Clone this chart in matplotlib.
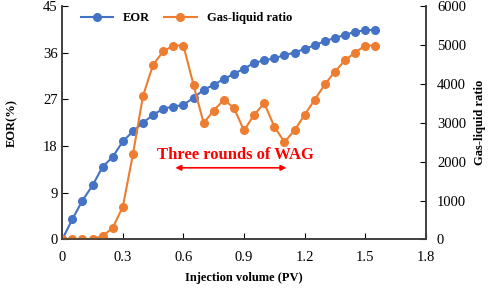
import matplotlib.pyplot as plt

plt.rcParams["font.family"] = ["Liberation Serif", "DejaVu Serif"]

# 注入量 (PV), 0.05 간격
pv = [0.0, 0.05, 0.1, 0.15, 0.2, 0.25, 0.3, 0.35, 0.4, 0.45, 0.5, 0.55, 0.6, 0.65,
      0.7, 0.75, 0.8, 0.85, 0.9, 0.95, 1.0, 1.05, 1.1, 1.15, 1.2, 1.25, 1.3, 1.35,
      1.4, 1.45, 1.5, 1.55]
eor = [0, 3.9, 7.5, 10.4, 14.0, 15.9, 18.9, 20.8, 22.5, 24.0, 25.2, 25.6, 25.9, 27.3,
       28.8, 29.8, 30.9, 31.9, 32.9, 34.0, 34.5, 34.9, 35.5, 36.0, 36.7, 37.4, 38.2,
       38.8, 39.4, 40.0, 40.3, 40.4]
glr = [0, 0, 0, 10, 85, 300, 840, 2190, 3690, 4490, 4830, 4980, 4980, 3970, 2990,
       3310, 3590, 3380, 2800, 3200, 3500, 2900, 2500, 2800, 3200, 3590, 3980, 4310,
       4600, 4800, 4980, 4980]

blue = "#4472C4"
orange = "#ED7D31"

fig, ax = plt.subplots(figsize=(4.98, 2.92), dpi=100)
fig.subplots_adjust(left=0.125, right=0.855, top=0.98, bottom=0.18)
ax2 = ax.twinx()

l1, = ax.plot(pv, eor, "-o", color=blue, lw=1.5, ms=5.5, label="EOR")
l2, = ax2.plot(pv, glr, "-o", color=orange, lw=1.5, ms=5.5, label="Gas-liquid ratio")

ax.set_xlim(0, 1.8)
ax.set_ylim(0, 45)
ax2.set_ylim(0, 6000)
ax.set_xticks([0, 0.3, 0.6, 0.9, 1.2, 1.5, 1.8])
ax.set_xticklabels(["0", "0.3", "0.6", "0.9", "1.2", "1.5", "1.8"])
ax.set_yticks([0, 9, 18, 27, 36, 45])
ax2.set_yticks([0, 1000, 2000, 3000, 4000, 5000, 6000])

for a in (ax, ax2):
    a.spines["top"].set_visible(False)
    a.tick_params(direction="in", labelsize=10.5, length=4)
    for s in a.spines.values():
        s.set_color("#404040")
        s.set_linewidth(1.2)
ax.tick_params(axis="x", pad=8)
ax2.tick_params(axis="y", pad=8)

ax.set_xlabel("Injection volume (PV)", fontsize=9, fontweight="bold", labelpad=6)
ax.set_ylabel("EOR(%)", fontsize=9, fontweight="bold", labelpad=18)
ax2.set_ylabel("Gas-liquid ratio", fontsize=9, fontweight="bold", labelpad=6)

ax.annotate("", xy=(0.56, 13.8), xytext=(1.11, 13.8),
            arrowprops=dict(arrowstyle="<|-|>", color="red", lw=1.2,
                            mutation_scale=8, shrinkA=0, shrinkB=0))
ax.text(0.856, 16.3, "Three rounds of WAG", color="red", fontsize=12,
        fontweight="bold", ha="center", va="center")

ax.legend(handles=[l1, l2], loc="upper left", ncol=2, frameon=False,
          prop={"weight": "bold", "size": 9}, bbox_to_anchor=(0.02, 1.02),
          columnspacing=1.1, handlelength=2.6)

fig.savefig("out.png", dpi=100)
